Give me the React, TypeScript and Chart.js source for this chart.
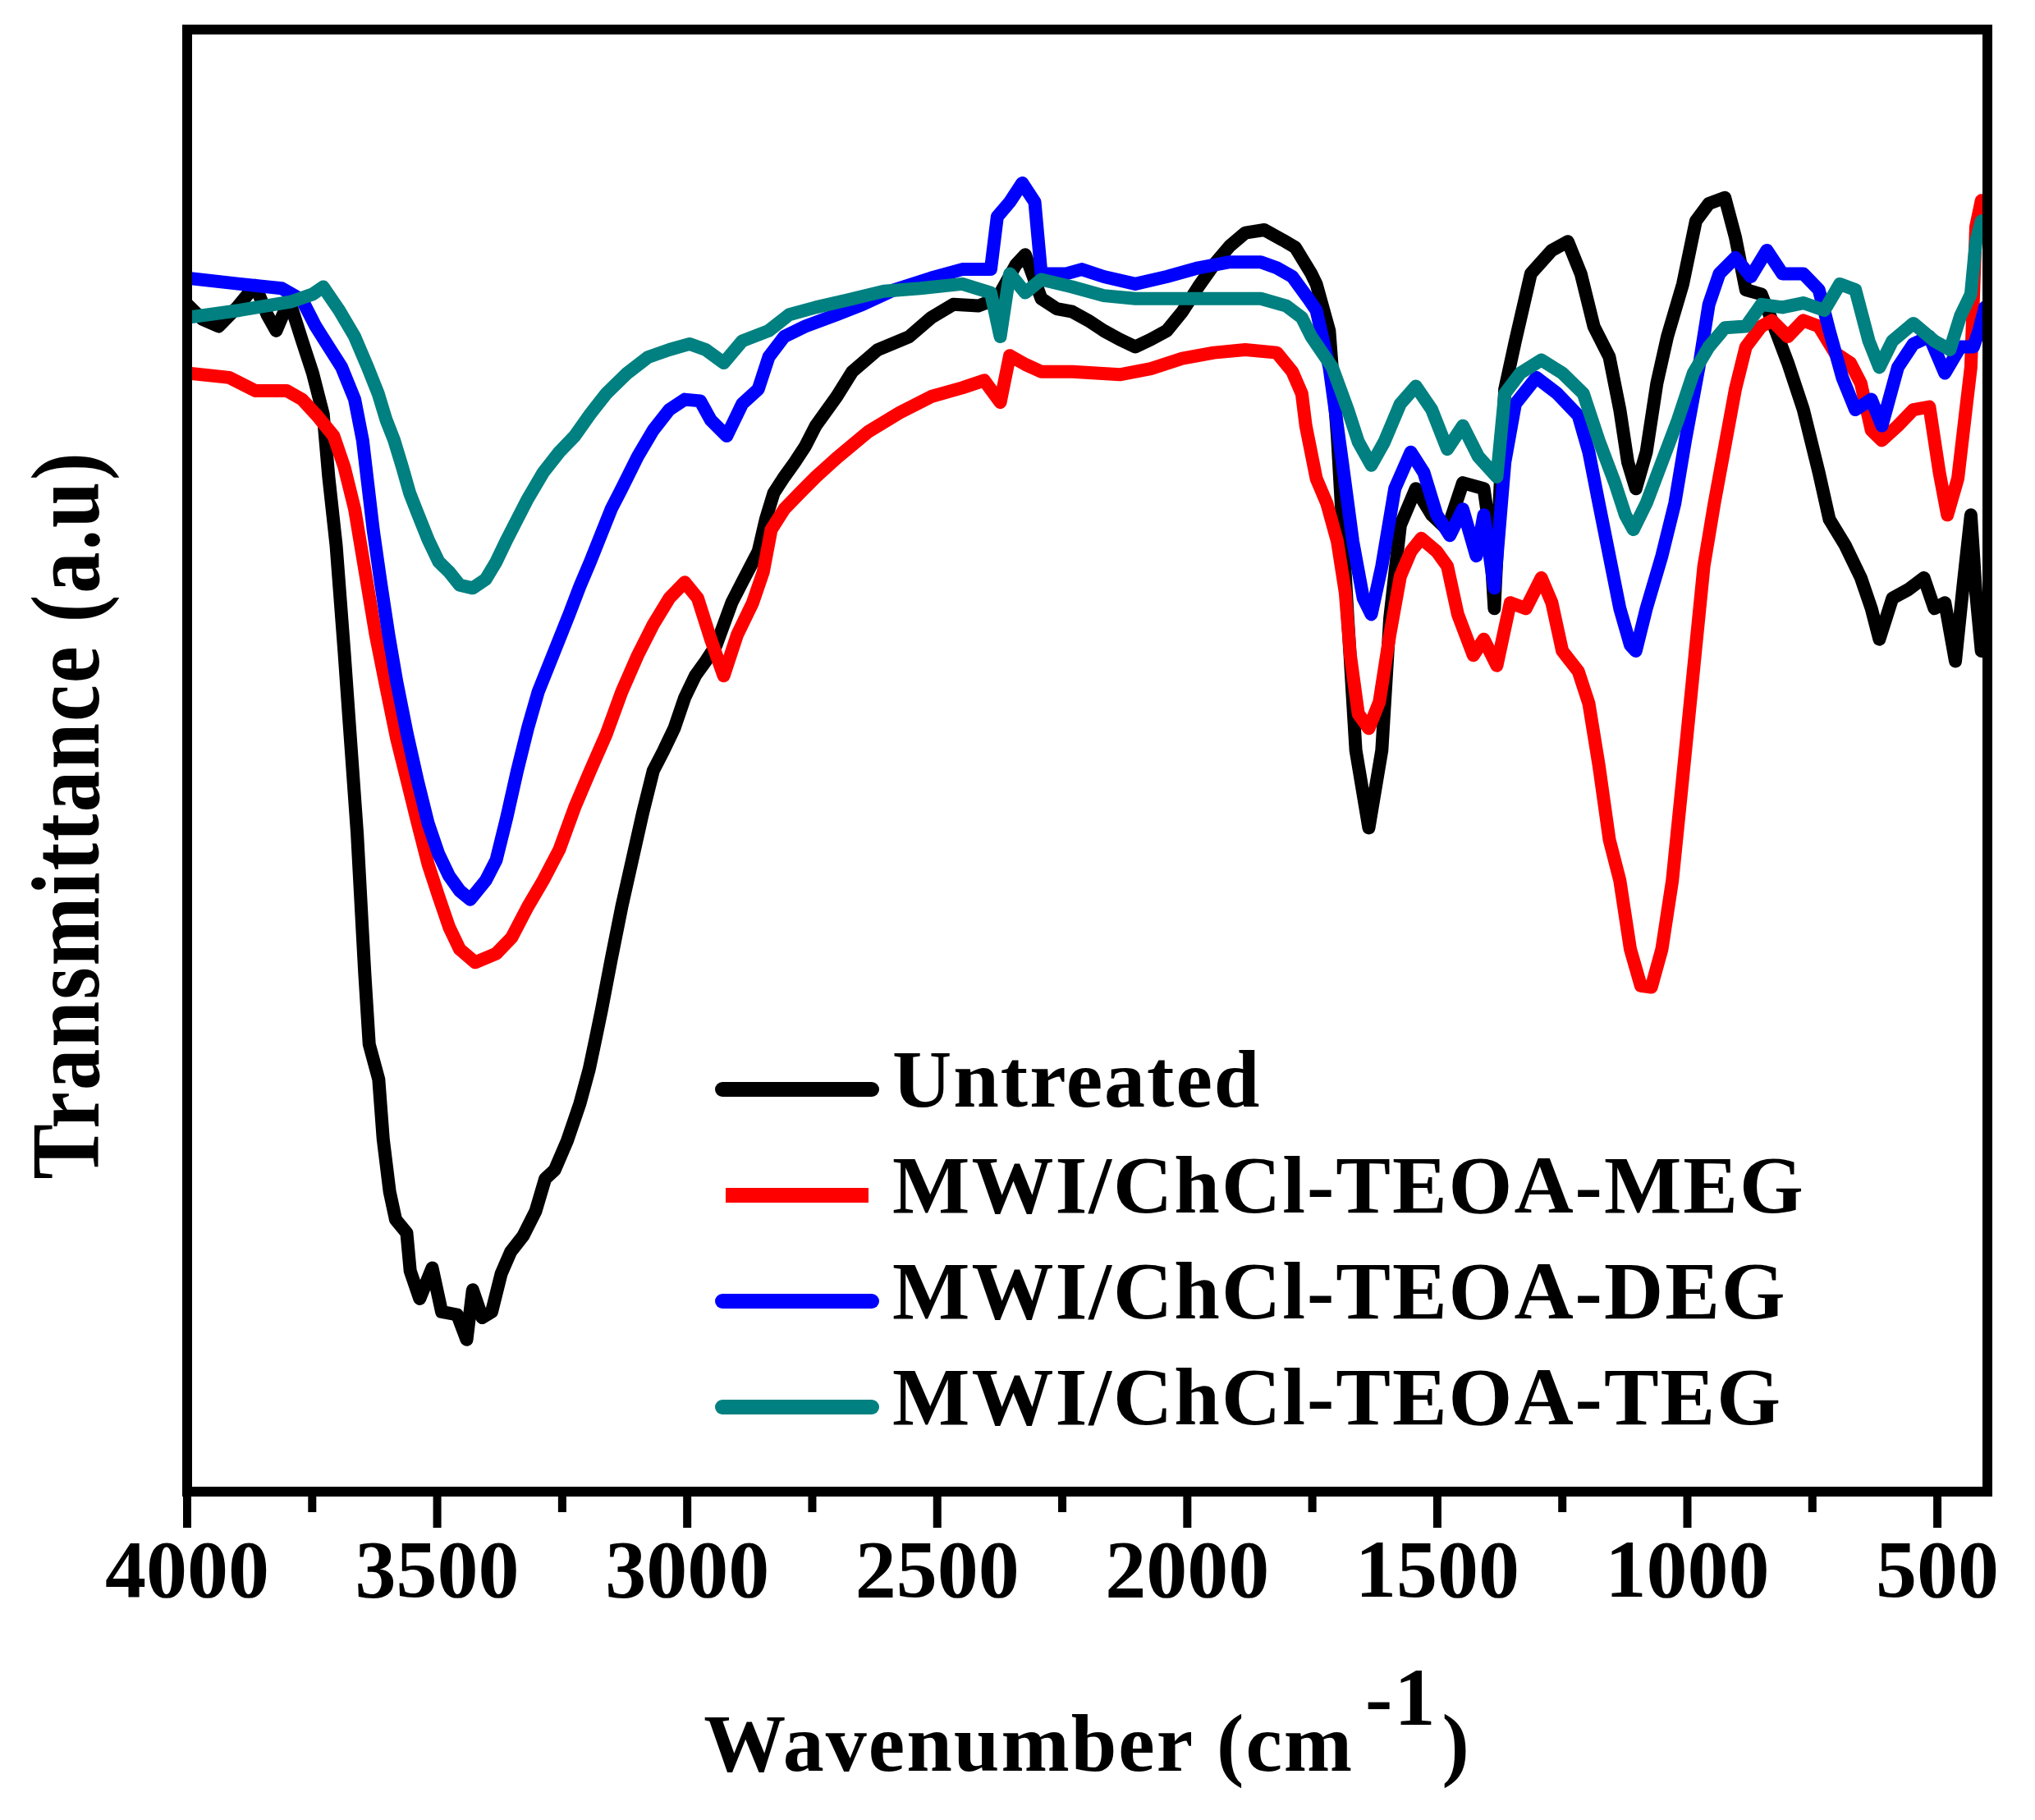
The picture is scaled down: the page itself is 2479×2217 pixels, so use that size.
import React, { useEffect, useRef } from "react";
import { Chart, registerables } from "chart.js";

Chart.register(...registerables);

// ---------- data ----------
const SERIES_LABELS = ["Untreated", "MWI/ChCl-TEOA-MEG", "MWI/ChCl-TEOA-DEG", "MWI/ChCl-TEOA-TEG"];
const SERIES_COLORS = ["#000000", "#FF0000", "#0000FF", "#008080"];

const X_TICKS = [4000, 3500, 3000, 2500, 2000, 1500, 1000, 500];
const X_MINOR_TICKS = [3750, 3250, 2750, 2250, 1750, 1250, 750];

const UNTREATED_WN = [4000, 3970, 3937, 3900, 3864, 3840, 3822, 3796, 3770, 3749, 3728, 3717, 3702, 3686, 3675, 3660, 3649, 3645, 3636, 3617, 3608, 3595, 3583, 3561, 3554, 3535, 3510, 3491, 3460, 3441, 3429, 3410, 3391, 3372, 3353, 3328, 3303, 3284, 3265, 3240, 3215, 3196, 3183, 3171, 3152, 3131, 3110, 3089, 3068, 3047, 3026, 3005, 2984, 2963, 2942, 2911, 2890, 2858, 2843, 2827, 2806, 2785, 2764, 2743, 2701, 2670, 2619, 2556, 2512, 2468, 2418, 2380, 2343, 2324, 2292, 2261, 2230, 2198, 2167, 2135, 2104, 2073, 2041, 2010, 1978, 1947, 1915, 1884, 1846, 1809, 1784, 1752, 1742, 1716, 1700, 1679, 1663, 1637, 1611, 1595, 1574, 1543, 1511, 1480, 1449, 1407, 1396, 1386, 1365, 1344, 1313, 1271, 1239, 1213, 1187, 1156, 1135, 1119, 1103, 1082, 1061, 1040, 1009, 983, 957, 925, 904, 883, 852, 831, 799, 768, 737, 716, 684, 653, 632, 616, 590, 558, 527, 506, 485, 464, 449, 433, 423, 412];
const UNTREATED_T = [81.2, 80.2, 79.7, 81.0, 82.5, 80.5, 79.4, 81.5, 78.7, 76.5, 73.7, 69.4, 64.7, 57.5, 52.2, 45.0, 38.0, 35.5, 30.6, 28.2, 24.1, 20.5, 18.6, 17.7, 15.1, 13.2, 15.3, 12.3, 12.1, 10.4, 13.8, 11.9, 12.3, 14.9, 16.4, 17.5, 19.2, 21.4, 22.0, 24.0, 26.5, 28.9, 31.0, 33.0, 36.4, 40.0, 43.2, 46.4, 49.3, 50.7, 52.2, 54.3, 55.8, 56.8, 57.9, 60.8, 62.2, 64.3, 66.5, 68.3, 69.4, 70.4, 71.5, 72.9, 74.9, 76.6, 78.1, 79.0, 80.3, 81.2, 81.1, 81.6, 83.9, 84.6, 81.6, 80.9, 80.7, 80.1, 79.4, 78.8, 78.3, 78.8, 79.4, 80.7, 82.4, 83.9, 85.2, 86.1, 86.3, 85.6, 85.1, 83.3, 82.6, 79.4, 72.2, 59.7, 50.7, 45.4, 50.7, 59.7, 66.1, 68.6, 66.8, 65.8, 69.0, 68.6, 66.0, 60.4, 75.4, 78.7, 83.3, 84.9, 85.5, 83.3, 79.7, 77.6, 74.0, 70.4, 68.6, 71.1, 75.8, 79.0, 82.6, 86.9, 88.1, 88.5, 85.8, 82.2, 81.9, 80.1, 77.2, 74.0, 69.7, 66.5, 64.7, 62.5, 60.4, 58.3, 61.1, 61.7, 62.5, 60.4, 60.8, 56.8, 61.8, 66.8, 61.5, 57.5];

const MEG_WN = [4000, 3916, 3864, 3801, 3770, 3738, 3707, 3686, 3665, 3644, 3623, 3602, 3581, 3560, 3539, 3518, 3497, 3476, 3455, 3424, 3382, 3351, 3319, 3288, 3256, 3225, 3194, 3162, 3131, 3099, 3068, 3036, 3005, 2979, 2953, 2927, 2900, 2869, 2848, 2832, 2806, 2775, 2743, 2701, 2638, 2575, 2512, 2450, 2406, 2374, 2355, 2324, 2292, 2230, 2135, 2073, 2010, 1947, 1884, 1821, 1790, 1771, 1763, 1742, 1721, 1700, 1684, 1674, 1658, 1637, 1616, 1595, 1574, 1553, 1532, 1501, 1480, 1459, 1428, 1407, 1381, 1354, 1323, 1292, 1271, 1250, 1218, 1197, 1177, 1156, 1135, 1114, 1093, 1072, 1051, 1030, 1009, 988, 967, 946, 925, 904, 883, 852, 831, 799, 768, 737, 705, 674, 653, 632, 611, 579, 548, 516, 496, 480, 459, 443, 433, 423, 412];
const MEG_T = [76.5, 76.2, 75.3, 75.3, 74.7, 73.5, 72.2, 70.1, 67.2, 62.9, 58.6, 55.0, 51.5, 48.6, 45.7, 42.9, 40.7, 38.6, 37.1, 36.2, 36.8, 37.9, 40.0, 41.8, 43.9, 46.8, 49.3, 51.8, 54.7, 57.2, 59.3, 61.1, 62.2, 61.1, 58.3, 55.8, 58.6, 60.8, 62.9, 65.8, 67.2, 68.3, 69.4, 70.7, 72.5, 73.8, 74.9, 75.5, 76.0, 74.5, 77.7, 77.1, 76.6, 76.6, 76.4, 76.8, 77.5, 77.9, 78.1, 77.9, 76.6, 75.1, 72.9, 69.3, 67.6, 65.0, 61.5, 57.2, 53.2, 52.2, 54.0, 58.6, 62.6, 64.3, 65.2, 64.3, 63.3, 60.0, 57.2, 58.3, 56.5, 60.8, 60.4, 62.5, 60.8, 57.5, 56.1, 53.9, 49.7, 44.6, 41.8, 37.1, 34.6, 34.5, 37.1, 41.8, 48.9, 56.1, 63.3, 67.6, 71.5, 75.4, 78.3, 79.7, 80.1, 79.0, 80.1, 79.7, 77.9, 77.2, 75.8, 72.6, 71.9, 72.9, 74.0, 74.2, 69.7, 66.8, 69.3, 74.0, 76.9, 86.5, 88.3];

const DEG_WN = [4000, 3895, 3811, 3770, 3743, 3717, 3691, 3665, 3649, 3639, 3628, 3613, 3597, 3581, 3560, 3539, 3518, 3497, 3476, 3455, 3434, 3403, 3382, 3361, 3340, 3319, 3298, 3277, 3256, 3235, 3215, 3194, 3173, 3152, 3131, 3099, 3068, 3036, 3005, 2974, 2953, 2921, 2890, 2858, 2837, 2806, 2764, 2701, 2649, 2586, 2513, 2450, 2393, 2380, 2355, 2330, 2305, 2292, 2242, 2211, 2167, 2104, 2041, 1978, 1915, 1853, 1821, 1790, 1758, 1742, 1716, 1690, 1669, 1648, 1632, 1611, 1585, 1553, 1527, 1501, 1475, 1449, 1422, 1407, 1386, 1365, 1344, 1302, 1260, 1218, 1197, 1177, 1156, 1135, 1114, 1103, 1082, 1051, 1025, 1004, 977, 957, 936, 904, 873, 841, 810, 768, 737, 716, 690, 664, 632, 611, 579, 548, 516, 485, 454, 428, 417, 405];
const DEG_T = [83.0, 82.6, 82.3, 81.5, 79.7, 78.3, 76.9, 74.7, 71.9, 69.0, 65.8, 62.2, 58.6, 55.4, 51.8, 48.6, 45.7, 43.6, 42.1, 41.1, 40.5, 41.8, 43.2, 46.1, 49.3, 52.2, 54.7, 56.5, 58.3, 60.1, 61.9, 63.6, 65.4, 67.2, 68.6, 70.8, 72.6, 74.0, 74.7, 74.6, 73.3, 72.2, 74.4, 75.4, 77.6, 79.0, 79.7, 80.5, 81.2, 82.2, 83.0, 83.6, 83.6, 87.2, 88.2, 89.5, 88.2, 83.3, 83.3, 83.6, 83.1, 82.6, 83.1, 83.7, 84.1, 84.1, 83.7, 83.1, 81.6, 80.8, 76.9, 70.4, 65.0, 61.1, 60.0, 63.3, 68.6, 71.1, 69.7, 66.8, 65.4, 67.2, 64.0, 66.8, 61.8, 70.4, 74.4, 76.2, 75.1, 73.6, 71.1, 67.6, 64.0, 60.4, 57.9, 57.5, 60.4, 64.0, 67.6, 71.9, 76.9, 81.2, 83.3, 84.4, 83.1, 84.9, 83.3, 83.3, 82.2, 79.4, 76.2, 74.0, 74.7, 72.9, 76.9, 78.5, 79.0, 76.5, 78.3, 78.3, 79.4, 81.0];

const TEG_WN = [4000, 3895, 3791, 3749, 3728, 3696, 3665, 3639, 3618, 3602, 3586, 3570, 3555, 3539, 3518, 3497, 3476, 3455, 3429, 3403, 3382, 3361, 3340, 3319, 3288, 3256, 3225, 3194, 3162, 3120, 3078, 3036, 2995, 2963, 2927, 2890, 2837, 2796, 2743, 2680, 2607, 2534, 2450, 2393, 2374, 2355, 2324, 2292, 2230, 2167, 2104, 1978, 1853, 1802, 1771, 1752, 1710, 1679, 1658, 1632, 1606, 1574, 1543, 1511, 1480, 1449, 1418, 1381, 1365, 1334, 1292, 1250, 1208, 1177, 1145, 1124, 1108, 1082, 1051, 1019, 988, 957, 925, 883, 852, 810, 768, 726, 695, 664, 637, 616, 590, 548, 506, 475, 454, 433, 423, 412];
const TEG_T = [80.3, 80.8, 81.4, 81.9, 82.4, 80.8, 79.0, 76.9, 75.1, 73.3, 71.9, 70.1, 68.3, 66.9, 65.1, 63.6, 62.9, 62.0, 61.8, 62.4, 63.6, 65.1, 66.5, 67.9, 69.7, 71.1, 72.2, 73.7, 75.1, 76.5, 77.6, 78.1, 78.5, 78.1, 77.2, 78.7, 79.4, 80.5, 81.0, 81.5, 82.1, 82.3, 82.6, 82.0, 79.0, 83.3, 82.0, 82.9, 82.4, 81.8, 81.6, 81.6, 81.6, 81.1, 80.3, 79.0, 76.9, 74.0, 71.8, 70.2, 71.8, 74.4, 75.6, 74.0, 71.3, 72.9, 70.8, 69.4, 75.1, 76.5, 77.4, 76.5, 75.1, 71.9, 69.0, 66.8, 65.8, 67.6, 70.4, 73.3, 76.5, 78.3, 79.6, 79.7, 81.2, 81.0, 81.3, 80.8, 82.6, 82.2, 78.7, 76.9, 78.7, 79.9, 78.7, 78.1, 80.4, 81.9, 85.5, 86.9];

const SERIES_WN = [UNTREATED_WN, MEG_WN, DEG_WN, TEG_WN];
const SERIES_T = [UNTREATED_T, MEG_T, DEG_T, TEG_T];

const X_TITLE_MAIN = "Wavenumber (cm";
const X_TITLE_SUP = "-1";
const X_TITLE_END = ")";
const Y_TITLE = "Transmittance (a.u)";

const FONT_FAMILY = "'Liberation Serif', 'Times New Roman', serif";

const decorPlugin = {
  id: "decor",
  afterDatasetsDraw(chart: any) {
    const { ctx, chartArea: a, scales } = chart;
    const x = scales.x;
    ctx.save();
    // frame
    ctx.strokeStyle = "#000";
    ctx.lineWidth = 12;
    ctx.strokeRect(a.left, a.top, a.right - a.left, a.bottom - a.top);
    // ticks
    ctx.lineWidth = 10;
    ctx.lineCap = "butt";
    X_TICKS.forEach((v) => {
      const px = x.getPixelForValue(v);
      ctx.beginPath();
      ctx.moveTo(px, a.bottom);
      ctx.lineTo(px, a.bottom + 44);
      ctx.stroke();
    });
    X_MINOR_TICKS.forEach((v) => {
      const px = x.getPixelForValue(v);
      ctx.beginPath();
      ctx.moveTo(px, a.bottom);
      ctx.lineTo(px, a.bottom + 25);
      ctx.stroke();
    });

    ctx.fillStyle = "#000";
    // x title
    ctx.font = `bold 100px ${FONT_FAMILY}`;
    (ctx as any).letterSpacing = "2px";
    ctx.textAlign = "left";
    ctx.textBaseline = "alphabetic";
    const wMain = ctx.measureText(X_TITLE_MAIN).width;
    const wSup = ctx.measureText(X_TITLE_SUP).width;
    const wEnd = ctx.measureText(X_TITLE_END).width;
    const total = wMain + 14 + wSup + 6 + wEnd;
    const cx = (a.left + a.right) / 2;
    let sx = cx - total / 2;
    const base = a.bottom + 340;
    ctx.fillText(X_TITLE_MAIN, sx, base);
    sx += wMain + 14;
    ctx.fillText(X_TITLE_SUP, sx, base - 56);
    sx += wSup + 6;
    ctx.fillText(X_TITLE_END, sx, base);

    // y title
    ctx.save();
    ctx.translate(120, 993);
    ctx.rotate(-Math.PI / 2);
    ctx.textAlign = "center";
    const wy = ctx.measureText(Y_TITLE).width;
    ctx.scale(887 / wy, 1.18);
    ctx.fillText(Y_TITLE, 0, 0);
    ctx.restore();

    // legend
    chart.data.datasets.forEach((ds: any, i: number) => {
      const ly = 1327 + i * 129;
      ctx.strokeStyle = ds.borderColor;
      ctx.lineWidth = 18;
      const butt = i === 1;
      ctx.lineCap = butt ? "butt" : "round";
      ctx.beginPath();
      ctx.moveTo(butt ? 884 : 880, ly);
      ctx.lineTo(butt ? 1058 : 1062, ly);
      ctx.stroke();
      ctx.fillStyle = "#000";
      ctx.textAlign = "left";
      ctx.fillText(ds.label, 1087, ly + 21);
    });
    ctx.restore();
  },
};

export default function App() {
  const ref = useRef<HTMLCanvasElement | null>(null);
  useEffect(() => {
    if (!ref.current) return;
    const datasets = SERIES_LABELS.map((label, i) => ({
      label,
      data: SERIES_WN[i].map((w, j) => ({ x: w, y: SERIES_T[i][j] })),
      borderColor: SERIES_COLORS[i],
      backgroundColor: SERIES_COLORS[i],
      borderWidth: 16,
      pointRadius: 0,
      tension: 0,
      fill: false,
      borderJoinStyle: "round",
      borderCapStyle: "round",
      order: SERIES_LABELS.length - i,
    }));
    const chart = new Chart(ref.current, {
      type: "line",
      data: { datasets } as any,
      options: {
        animation: false,
        responsive: false,
        devicePixelRatio: 1,
        layout: { padding: { left: 228, right: 58, top: 36, bottom: 0 } },
        plugins: { legend: { display: false }, tooltip: { enabled: false } },
        scales: {
          x: {
            type: "linear",
            reverse: true,
            min: 400,
            max: 4000,
            grid: { display: false, drawTicks: false },
            border: { display: false },
            afterBuildTicks: (axis: any) => {
              axis.ticks = X_TICKS.map((v) => ({ value: v }));
            },
            afterFit: (axis: any) => {
              axis.height = 400;
            },
            ticks: {
              autoSkip: false,
              maxRotation: 0,
              padding: 42,
              color: "#000",
              font: { family: FONT_FAMILY, size: 100, weight: "bold" },
              callback: (v: any) => String(v),
            },
          },
          y: {
            type: "linear",
            min: 0,
            max: 100,
            display: false,
          },
        },
      } as any,
      plugins: [decorPlugin],
    });
    return () => chart.destroy();
  }, []);
  return (
    <div style={{ position: "absolute", left: 0, top: 0, width: 2479, height: 2217, background: "#fff" }}>
      <canvas ref={ref} width={2479} height={2217} />
    </div>
  );
}
